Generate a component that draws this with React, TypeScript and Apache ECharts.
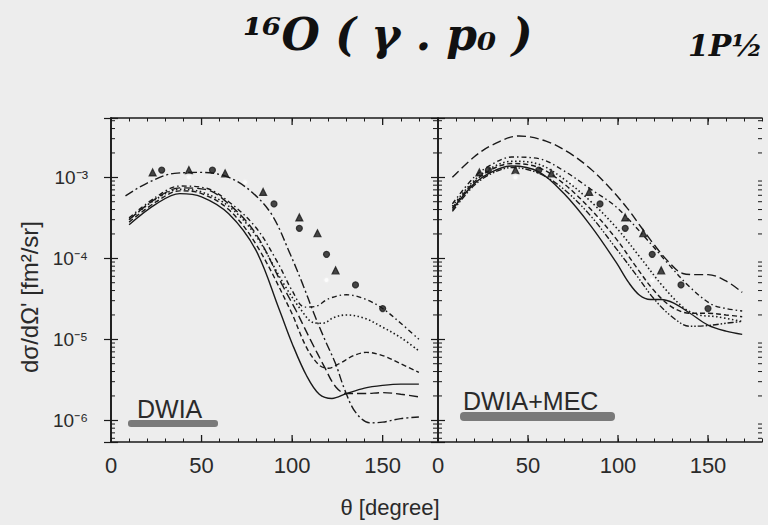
import React, { useEffect, useRef } from "react";
import * as echarts from "echarts";

// ---------- axis settings ----------
const thetaMin = 0;
const thetaMax = 180;
const xLabelTicks = [0, 50, 100, 150];
const xMajorTicks = [50, 100, 150];
const yMin = 5.4e-7;
const yMax = 5.4e-3;
const yLabelExponents = [-6, -5, -4, -3];
const yMinorMultipliers = [2, 3, 4, 5, 6, 7, 8, 9];
const yMinorDecades = [-7, -6, -5, -4, -3];

// ---------- DWIA panel: theory curves [theta (deg), dσ/dΩ (fm²/sr)] ----------
const dwiaA = [
  [8, 5.9e-4], [20, 8.5e-4], [35, 1.12e-3], [50, 1.15e-3], [65, 1.0e-3], [78, 6.5e-4],
  [89, 3.4e-4], [99, 1.12e-4], [106, 4.7e-5], [112, 2.1e-5], [118, 1.0e-5], [124, 5.0e-6],
  [129, 2.4e-6], [135, 1.26e-6], [143, 9.3e-7], [150, 9.5e-7], [160, 1.05e-6], [170, 1.1e-6],
];
const dwiaB = [
  [10, 3.16e-4], [25, 5.75e-4], [38, 7.8e-4], [52, 7.4e-4], [65, 5.0e-4], [80, 2.4e-4],
  [92, 8.9e-5], [100, 4.0e-5], [107, 2.5e-5], [113, 2.55e-5], [120, 3.16e-5], [130, 3.55e-5],
  [140, 3.16e-5], [150, 2.4e-5], [160, 1.58e-5], [170, 1.0e-5],
];
const dwiaC = [
  [10, 3.0e-4], [25, 5.4e-4], [38, 7.1e-4], [50, 6.6e-4], [65, 4.4e-4], [80, 1.9e-4],
  [95, 5.0e-5], [105, 2.3e-5], [112, 1.6e-5], [117, 1.58e-5], [123, 1.86e-5], [130, 2.0e-5],
  [140, 1.82e-5], [150, 1.41e-5], [160, 1.05e-5], [170, 7.2e-6],
];
const dwiaD = [
  [10, 2.8e-4], [25, 5.0e-4], [38, 6.8e-4], [50, 6.3e-4], [65, 4.0e-4], [80, 1.5e-4],
  [99, 2.3e-5], [108, 7.9e-6], [115, 4.8e-6], [120, 4.4e-6], [126, 5.0e-6], [134, 6.3e-6],
  [141, 6.9e-6], [150, 6.3e-6], [160, 5.0e-6], [170, 3.9e-6],
];
const dwiaE = [
  [10, 2.6e-4], [25, 4.7e-4], [38, 6.3e-4], [50, 5.75e-4], [65, 3.55e-4], [80, 1.26e-4],
  [93, 2.3e-5], [100, 8.9e-6], [108, 3.55e-6], [115, 2.1e-6], [122, 1.86e-6], [130, 2.14e-6],
  [140, 2.5e-6], [150, 2.7e-6], [160, 2.8e-6], [170, 2.8e-6],
];
const dwiaF = [
  [10, 3.0e-4], [25, 5.5e-4], [38, 7.4e-4], [52, 7.1e-4], [65, 4.7e-4], [80, 2.0e-4],
  [95, 4.5e-5], [102, 2.3e-5], [110, 1.0e-5], [118, 4.5e-6], [124, 2.6e-6], [130, 2.14e-6],
  [140, 2.14e-6], [150, 2.2e-6], [160, 2.1e-6], [170, 1.95e-6],
];

// ---------- DWIA+MEC panel ----------
const mecA = [
  [8, 1.0e-3], [20, 1.78e-3], [30, 2.5e-3], [45, 3.24e-3], [60, 2.8e-3], [73, 2.0e-3],
  [85, 1.26e-3], [95, 7.6e-4], [105, 4.2e-4], [113, 2.4e-4], [120, 1.48e-4], [128, 9.1e-5],
  [136, 6.5e-5], [143, 6.3e-5], [150, 6.3e-5], [160, 5.25e-5], [169, 3.8e-5],
];
const mecB = [
  [8, 4.7e-4], [20, 1.0e-3], [30, 1.45e-3], [41, 1.78e-3], [56, 1.7e-3], [70, 1.2e-3],
  [85, 7.1e-4], [99, 4.3e-4], [115, 1.82e-4], [128, 8.5e-5], [140, 4.4e-5], [152, 2.7e-5],
  [160, 2.4e-5], [169, 2.24e-5],
];
const mecC = [
  [8, 4.4e-4], [20, 9.1e-4], [30, 1.32e-3], [41, 1.58e-3], [56, 1.45e-3], [70, 9.5e-4],
  [85, 5.0e-4], [99, 2.4e-4], [112, 1.05e-4], [125, 4.5e-5], [137, 2.4e-5], [145, 2.0e-5],
  [155, 1.9e-5], [169, 1.66e-5],
];
const mecD = [
  [8, 4.2e-4], [20, 8.7e-4], [30, 1.26e-3], [41, 1.48e-3], [56, 1.32e-3], [70, 8.3e-4],
  [85, 4.0e-4], [99, 1.74e-4], [110, 7.9e-5], [120, 4.0e-5], [130, 2.5e-5], [140, 2.1e-5],
  [150, 2.1e-5], [160, 2.0e-5], [169, 1.9e-5],
];
const mecE = [
  [8, 4.0e-4], [20, 8.3e-4], [30, 1.17e-3], [41, 1.38e-3], [56, 1.17e-3], [70, 6.3e-4],
  [85, 2.5e-4], [99, 8.9e-5], [106, 5.0e-5], [112, 3.5e-5], [118, 3.1e-5], [124, 3.1e-5],
  [131, 2.8e-5], [140, 2.1e-5], [150, 1.5e-5], [160, 1.26e-5], [169, 1.15e-5],
];
const mecF = [
  [8, 3.8e-4], [20, 7.9e-4], [30, 1.12e-3], [41, 1.32e-3], [56, 1.12e-3], [70, 7.1e-4],
  [85, 3.3e-4], [99, 1.32e-4], [110, 6.3e-5], [120, 3.16e-5], [130, 1.9e-5], [140, 1.45e-5],
  [150, 1.48e-5], [160, 1.58e-5], [169, 1.66e-5],
];

// ---------- measured points (same in both panels) ----------
const expFilledCircles = [
  [28, 1.23e-3], [56, 1.23e-3], [90, 4.7e-4], [104, 2.35e-4], [119, 1.12e-4], [135, 4.7e-5], [150, 2.4e-5],
];
const expTriangles = [
  [23, 1.15e-3], [43, 1.23e-3], [63, 1.12e-3], [84, 6.6e-4], [104, 3.2e-4], [114, 2.04e-4], [124, 7.1e-5],
];
const expOpenCircles = [
  [43, 1.0e-3], [74, 8.7e-4], [89, 3.1e-4], [119, 5.4e-5],
];

// ---------- texts ----------
const titleText = "¹⁶O ( γ . p₀ )";
const stateText = "1P½";
const xAxisTitle = "θ [degree]";
const yAxisTitle = "dσ/dΩ' [fm²/sr]";
const panelLabels = ["DWIA", "DWIA+MEC"];

const INK = "#1a1a1a";
const BG = "#ededed";
const FONT = "'Liberation Sans', Arial, Helvetica, sans-serif";
const SUP: Record<string, string> = { "-": "⁻", "0": "⁰", "1": "¹", "2": "²", "3": "³", "4": "⁴", "5": "⁵", "6": "⁶", "7": "⁷", "8": "⁸", "9": "⁹" };

const DASH_LONGDOT: number[] = [9, 3, 2, 3];
const DASH_DOT: number[] = [5, 3, 1.5, 3];
const DASH_DOTTED: number[] = [1.5, 2.5];
const DASH_DASHED: number[] = [5, 3];
const DASH_LONG: number[] = [9, 4];
const DASH_DDOT: number[] = [6, 2, 1.5, 2, 1.5, 2];

export default function App() {
  const ref = useRef<HTMLDivElement | null>(null);

  useEffect(() => {
    document.body.style.margin = "0";
    document.body.style.background = BG;
    if (!ref.current) return;
    const chart = echarts.init(ref.current, undefined, { renderer: "svg" });

    const grids = [
      { left: 111, top: 118, width: 326, height: 324 },
      { left: 438, top: 118, width: 324, height: 324 },
    ];

    const yMinorTicks: number[] = [];
    yMinorDecades.forEach((d) =>
      yMinorMultipliers.forEach((k) => {
        const v = k * Math.pow(10, d);
        if (v > yMin && v < yMax) yMinorTicks.push(v);
      })
    );

    const isPow10 = (v: number) => {
      const l = Math.log10(v);
      return Math.abs(l - Math.round(l)) < 1e-6 && yLabelExponents.includes(Math.round(l));
    };
    const supLabel = (v: number) => {
      const e = String(Math.round(Math.log10(v)));
      return "10" + e.split("").map((c) => SUP[c]).join("");
    };

    const axisLine = { show: true, lineStyle: { color: INK, width: 1.6 } };

    const xAxes: any[] = [];
    const yAxes: any[] = [];
    grids.forEach((_, g) => {
      xAxes.push({
        type: "value", gridIndex: g, position: "bottom", min: thetaMin, max: thetaMax, interval: 10,
        axisLine, splitLine: { show: false },
        axisTick: { show: true, inside: true, length: 3.5, lineStyle: { color: INK, width: 1 } },
        axisLabel: {
          show: true, margin: 12, fontSize: 22, fontFamily: FONT, color: "#2a2a2a",
          formatter: (v: number) => (xLabelTicks.includes(v) ? String(v) : ""),
        },
      });
      xAxes.push({
        type: "value", gridIndex: g, position: "top", min: thetaMin, max: thetaMax, interval: 10,
        axisLine, splitLine: { show: false },
        axisTick: { show: true, inside: true, length: 3.5, lineStyle: { color: INK, width: 1 } },
        axisLabel: { show: false },
      });
      yAxes.push({
        type: "log", logBase: 10, gridIndex: g, position: "left", min: yMin, max: yMax,
        axisLine, splitLine: { show: false },
        axisTick: { show: true, inside: true, length: 7, lineStyle: { color: INK, width: 1.2 } },
        axisLabel: {
          show: g === 0, margin: 23, fontSize: 19, fontFamily: FONT, color: "#2a2a2a",
          formatter: (v: number) => (isPow10(v) ? supLabel(v) : ""),
        },
      });
      yAxes.push({
        type: "log", logBase: 10, gridIndex: g, position: "right", min: yMin, max: yMax,
        axisLine, splitLine: { show: false },
        axisTick: { show: true, inside: true, length: 7, lineStyle: { color: INK, width: 1.2 } },
        axisLabel: { show: false },
      });
    });

    const curve = (data: number[][], dash: any, g: number, width = 1.4) => ({
      type: "line", xAxisIndex: g * 2, yAxisIndex: g * 2, data, smooth: 0.35, symbol: "none",
      silent: true, lineStyle: { color: INK, width, type: dash },
    });
    const points = (data: number[][], symbol: string, size: number, g: number) => ({
      type: "scatter", xAxisIndex: g * 2, yAxisIndex: g * 2, data, symbol, symbolSize: size, silent: true,
      itemStyle: { color: symbol === "emptyCircle" ? BG : INK, borderColor: INK, borderWidth: 1.2 },
    });
    const minorTickSeries = (g: number) => ({
      type: "custom", xAxisIndex: g * 2, yAxisIndex: g * 2, silent: true, clip: false,
      data: yMinorTicks.map((v) => [thetaMin, v]), encode: { x: 0, y: 1 },
      renderItem: (params: any, api: any) => {
        const cs = params.coordSys;
        const y = api.coord([thetaMin, api.value(1)])[1];
        const st = { stroke: INK, lineWidth: 1 };
        return {
          type: "group",
          children: [
            { type: "line", shape: { x1: cs.x, y1: y, x2: cs.x + 4, y2: y }, style: st },
            { type: "line", shape: { x1: cs.x + cs.width - 4, y1: y, x2: cs.x + cs.width, y2: y }, style: st },
          ],
        };
      },
    });
    const majorXTickSeries = (g: number) => ({
      type: "custom", xAxisIndex: g * 2, yAxisIndex: g * 2, silent: true, clip: false,
      data: xMajorTicks.map((t) => [t, 1e-4]), encode: { x: 0, y: 1 },
      renderItem: (params: any, api: any) => {
        const cs = params.coordSys;
        const x = api.coord([api.value(0), 1e-4])[0];
        const st = { stroke: INK, lineWidth: 1.3 };
        return {
          type: "group",
          children: [
            { type: "line", shape: { x1: x, y1: cs.y + cs.height, x2: x, y2: cs.y + cs.height - 7 }, style: st },
            { type: "line", shape: { x1: x, y1: cs.y, x2: x, y2: cs.y + 7 }, style: st },
          ],
        };
      },
    });

    const series: any[] = [
      curve(dwiaA, DASH_LONGDOT, 0),
      curve(dwiaB, DASH_DOT, 0),
      curve(dwiaC, DASH_DOTTED, 0, 1.6),
      curve(dwiaD, DASH_DASHED, 0),
      curve(dwiaE, "solid", 0),
      curve(dwiaF, DASH_LONG, 0),
      curve(mecA, DASH_LONG, 1),
      curve(mecB, DASH_DOT, 1),
      curve(mecC, DASH_DOTTED, 1, 1.6),
      curve(mecD, DASH_DASHED, 1),
      curve(mecE, "solid", 1),
      curve(mecF, DASH_DDOT, 1),
    ];
    [0, 1].forEach((g) => {
      series.push(points(expFilledCircles, "circle", 6, g));
      series.push(points(expTriangles, "triangle", 7, g));
      series.push(points(expOpenCircles, "emptyCircle", 6, g));
      series.push(minorTickSeries(g));
      series.push(majorXTickSeries(g));
    });

    const graphic: any[] = [
      {
        type: "text", left: 243, top: 12,
        style: { text: titleText, fontSize: 44, fontFamily: "'DejaVu Serif', serif", fontStyle: "italic", fontWeight: "bold", fill: "#111" },
      },
      {
        type: "text", left: 688, top: 30,
        style: { text: stateText, fontSize: 30, fontFamily: "'DejaVu Serif', serif", fontStyle: "italic", fontWeight: "bold", fill: "#111" },
      },
      {
        type: "text", x: 390, y: 507,
        style: { text: xAxisTitle, fontSize: 22, fontFamily: FONT, fill: "#2a2a2a", align: "center", verticalAlign: "middle" },
      },
      {
        type: "text", x: 29, y: 297, rotation: Math.PI / 2,
        style: { text: yAxisTitle, fontSize: 24, fontFamily: FONT, fill: "#2a2a2a", align: "center", verticalAlign: "middle" },
      },
      { type: "rect", shape: { x: 128, y: 420, width: 90, height: 7, r: 3 }, style: { fill: "#7a7a7a" } },
      { type: "rect", shape: { x: 460, y: 412, width: 155, height: 9, r: 4 }, style: { fill: "#7a7a7a" } },
      {
        type: "text", x: 137, y: 409,
        style: { text: panelLabels[0], fontSize: 25, fontFamily: FONT, fill: "#2a2a2a", align: "left", verticalAlign: "middle" },
      },
      {
        type: "text", x: 463, y: 401,
        style: { text: panelLabels[1], fontSize: 25, fontFamily: FONT, fill: "#2a2a2a", align: "left", verticalAlign: "middle" },
      },
    ];

    chart.setOption({
      animation: false,
      backgroundColor: BG,
      grid: grids.map((g) => ({ ...g, containLabel: false })),
      xAxis: xAxes,
      yAxis: yAxes,
      series,
      graphic,
    });

    return () => chart.dispose();
  }, []);

  return <div ref={ref} style={{ width: 768, height: 525, background: BG }} />;
}
